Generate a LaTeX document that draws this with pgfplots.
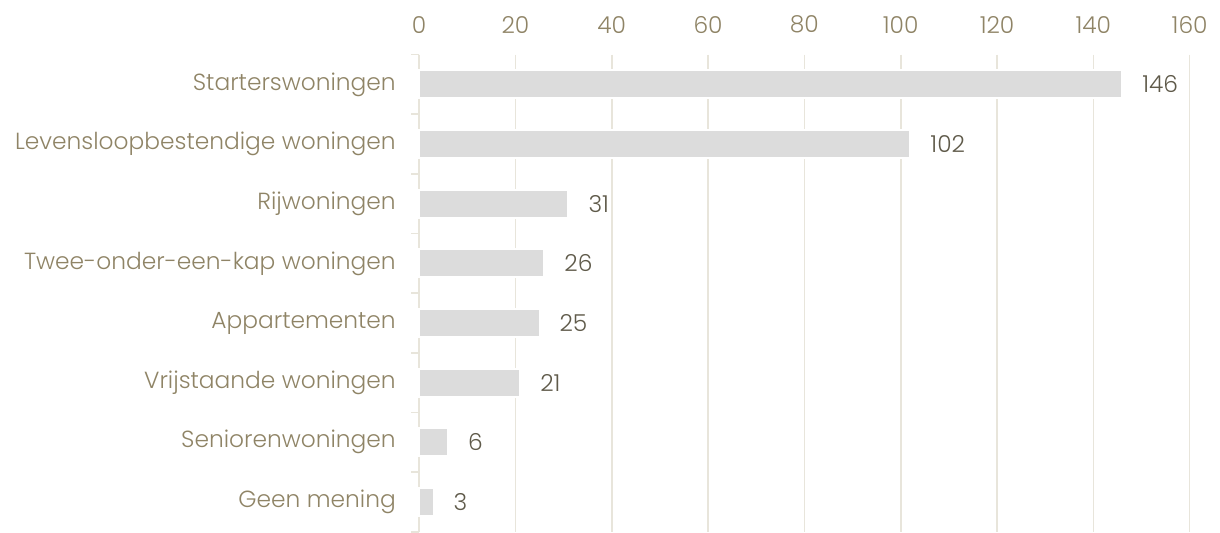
\documentclass[border=0pt]{standalone}
\usepackage{fontspec}
\setmainfont{Poppins}[UprightFont={* Light}]
\usepackage{pgfplots}
\pgfplotsset{compat=1.18}
\definecolor{lab}{HTML}{8F8466}
\definecolor{val}{HTML}{5F5A4A}
\definecolor{grid}{HTML}{E8E5DB}
\definecolor{bar}{HTML}{DCDCDC}
\begin{document}
\begin{tikzpicture}
\begin{axis}[
  scale only axis,
  width=578pt, height=358pt,
  xbar, bar width=0.47,
  xmin=0, xmax=160,
  ymin=-0.5, ymax=7.5,
  y dir=reverse,
  axis x line*=top,
  axis y line*=left,
  x axis line style={draw=none},
  y axis line style={draw=grid, line width=1.2pt},
  xtick={0,20,...,160},
  xmajorgrids,
  major x grid style={draw=grid, line width=1.2pt},
  major tick length=0pt,
  xticklabel style={font=\fontsize{17.5}{20}\selectfont, text=lab, yshift=12.5pt},
  /pgf/number format/assume math mode=true,
  ytick={0,...,7},
  yticklabels={Starterswoningen,Levensloopbestendige woningen,Rijwoningen,Twee-onder-een-kap woningen,Appartementen,Vrijstaande woningen,Seniorenwoningen,Geen mening},
  yticklabel style={font=\fontsize{17.5}{20}\selectfont, text=lab, xshift=-14pt},
  minor ytick={-0.5,0.5,...,7.5},
  minor tick length=6pt,
  minor y tick style={draw=grid, line width=1.2pt},
  ytick pos=left,
  tick align=outside,
  nodes near coords,
  every node near coord/.append style={font=\fontsize{17.5}{20}\selectfont, text=val, xshift=11pt},
  clip=false,
]
\addplot[fill=bar, draw=white, line width=1.5pt] coordinates {
(146,0) (102,1) (31,2) (26,3) (25,4) (21,5) (6,6) (3,7)
};
\end{axis}
\path ([xshift=-8pt,yshift=8.5pt]current axis.outer north west) ([xshift=6pt]current axis.outer south east);
\end{tikzpicture}
\end{document}
